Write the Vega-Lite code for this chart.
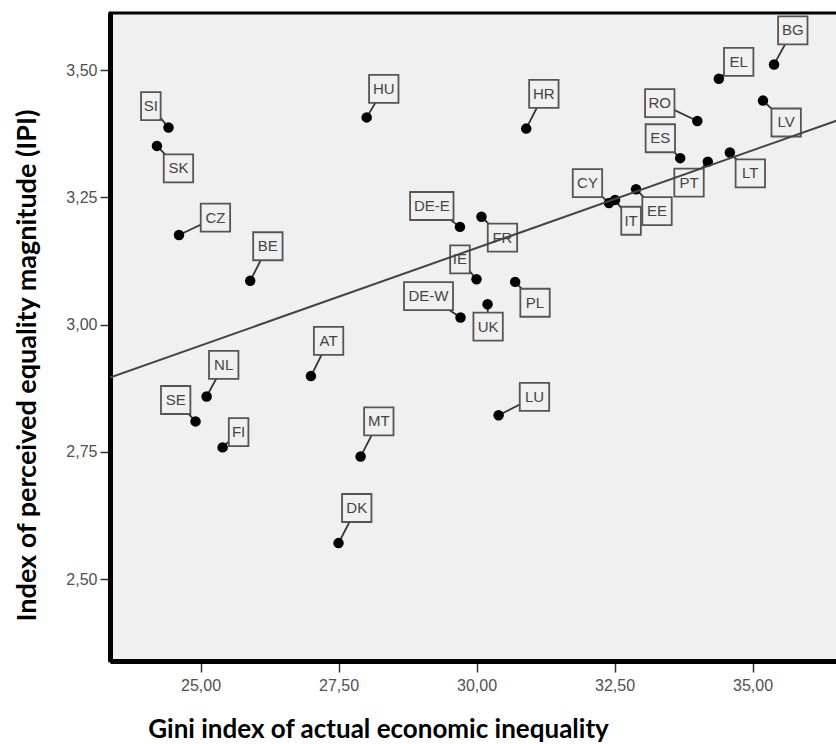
{
  "$schema": "https://vega.github.io/schema/vega-lite/v6.json",
  "width": 730,
  "height": 648,
  "autosize": "none",
  "padding": {"left": 110, "top": 13, "right": 0, "bottom": 83},
  "background": "white",
  "config": {
    "locale": {"number": {"decimal": ",", "thousands": ".", "grouping": [3], "currency": ["", " €"]}},
    "view": {"fill": "#f0f0f0", "stroke": "black", "strokeWidth": 3},
    "axis": {
      "grid": false,
      "domainColor": "black",
      "domainWidth": 5,
      "tickColor": "#333333",
      "tickWidth": 1.5,
      "tickSize": 10,
      "labelFont": "Liberation Sans",
      "labelFontSize": 16,
      "labelColor": "#505050",
      "titleFont": "Lato",
      "titleFontWeight": "bold",
      "titleFontSize": 27,
      "titleColor": "black"
    }
  },
  "datasets": {
    "countries": [
      {"country": "SI", "gini": 24.42, "ipi": 3.387, "lx": 24.10, "ly": 3.429},
      {"country": "SK", "gini": 24.21, "ipi": 3.351, "lx": 24.60, "ly": 3.307},
      {"country": "CZ", "gini": 24.61, "ipi": 3.176, "lx": 25.27, "ly": 3.210},
      {"country": "BE", "gini": 25.90, "ipi": 3.086, "lx": 26.22, "ly": 3.154},
      {"country": "HU", "gini": 28.01, "ipi": 3.407, "lx": 28.32, "ly": 3.463},
      {"country": "HR", "gini": 30.90, "ipi": 3.385, "lx": 31.22, "ly": 3.453},
      {"country": "DE-E", "gini": 29.70, "ipi": 3.192, "lx": 29.19, "ly": 3.233},
      {"country": "FR", "gini": 30.09, "ipi": 3.212, "lx": 30.47, "ly": 3.171},
      {"country": "IE", "gini": 30.00, "ipi": 3.089, "lx": 29.70, "ly": 3.128},
      {"country": "DE-W", "gini": 29.71, "ipi": 3.014, "lx": 29.13, "ly": 3.056},
      {"country": "PL", "gini": 30.70, "ipi": 3.084, "lx": 31.06, "ly": 3.043},
      {"country": "UK", "gini": 30.20, "ipi": 3.040, "lx": 30.21, "ly": 2.996},
      {"country": "CY", "gini": 32.40, "ipi": 3.239, "lx": 32.01, "ly": 3.278},
      {"country": "IT", "gini": 32.51, "ipi": 3.245, "lx": 32.80, "ly": 3.204},
      {"country": "EE", "gini": 32.89, "ipi": 3.266, "lx": 33.27, "ly": 3.223},
      {"country": "ES", "gini": 33.69, "ipi": 3.327, "lx": 33.33, "ly": 3.366},
      {"country": "PT", "gini": 34.19, "ipi": 3.320, "lx": 33.85, "ly": 3.279},
      {"country": "LT", "gini": 34.59, "ipi": 3.338, "lx": 34.96, "ly": 3.297},
      {"country": "RO", "gini": 34.00, "ipi": 3.400, "lx": 33.32, "ly": 3.435},
      {"country": "EL", "gini": 34.39, "ipi": 3.483, "lx": 34.75, "ly": 3.516},
      {"country": "BG", "gini": 35.39, "ipi": 3.511, "lx": 35.73, "ly": 3.578},
      {"country": "LV", "gini": 35.19, "ipi": 3.440, "lx": 35.61, "ly": 3.397},
      {"country": "NL", "gini": 25.11, "ipi": 2.859, "lx": 25.42, "ly": 2.921},
      {"country": "SE", "gini": 24.91, "ipi": 2.810, "lx": 24.55, "ly": 2.852},
      {"country": "FI", "gini": 25.40, "ipi": 2.759, "lx": 25.69, "ly": 2.789},
      {"country": "MT", "gini": 27.90, "ipi": 2.741, "lx": 28.23, "ly": 2.810},
      {"country": "DK", "gini": 27.50, "ipi": 2.571, "lx": 27.83, "ly": 2.640},
      {"country": "AT", "gini": 27.00, "ipi": 2.899, "lx": 27.32, "ly": 2.968},
      {"country": "LU", "gini": 30.40, "ipi": 2.822, "lx": 31.05, "ly": 2.858}
    ],
    "fit": [
      {"gini": 23.36, "ipi": 2.896},
      {"gini": 36.585, "ipi": 3.403}
    ]
  },
  "layer": [
    {
      "data": {"name": "countries"},
      "mark": {"type": "rule", "color": "#333333", "strokeWidth": 1.8},
      "encoding": {
        "x": {"field": "gini", "type": "quantitative",
              "scale": {"domain": [23.36, 36.585], "nice": false, "zero": false},
              "axis": {"values": [25, 27.5, 30, 32.5, 35], "format": ".2f", "tickSize": 11, "labelPadding": 5,
                       "title": "Gini index of actual economic inequality", "titleFontSize": 26,
                       "titleX": 268, "titleY": 76, "titleBaseline": "alphabetic", "titleAlign": "center", "titleAnchor": null}},
        "y": {"field": "ipi", "type": "quantitative",
              "scale": {"domain": [2.3395, 3.612], "nice": false, "zero": false},
              "axis": {"values": [2.5, 2.75, 3, 3.25, 3.5], "format": ".2f", "tickSize": 10, "labelPadding": 3,
                       "title": "Index of perceived equality magnitude (IPI)",
                       "titleX": -75, "titleY": 352, "titleBaseline": "alphabetic", "titleAlign": "center", "titleAngle": -90, "titleAnchor": null}},
        "x2": {"field": "lx"},
        "y2": {"field": "ly"}
      }
    },
    {
      "data": {"name": "countries"},
      "transform": [
        {"calculate": "length(datum.country) > 2 ? (indexof(datum.country, 'W') >= 0 ? 'xwide' : 'wide') : (indexof(datum.country, 'I') >= 0 ? 'narrow' : 'regular')", "as": "boxkind"}
      ],
      "mark": {"type": "point", "filled": true, "fill": "#f0f0f0", "stroke": "#555555", "strokeWidth": 1.8, "size": 784, "opacity": 1},
      "encoding": {
        "x": {"field": "lx", "type": "quantitative"},
        "y": {"field": "ly", "type": "quantitative"},
        "shape": {"field": "boxkind", "type": "nominal", "legend": null,
                  "scale": {"domain": ["narrow", "regular", "wide", "xwide"],
                            "range": ["M-0.7,-1H0.7V1H-0.7Z", "M-1.05,-1H1.05V1H-1.05Z", "M-1.55,-1H1.55V1H-1.55Z", "M-1.75,-1H1.75V1H-1.75Z"]}}
      }
    },
    {
      "data": {"name": "countries"},
      "mark": {"type": "text", "font": "Liberation Sans", "fontSize": 15, "color": "#444444", "align": "center", "baseline": "middle"},
      "encoding": {
        "x": {"field": "lx", "type": "quantitative"},
        "y": {"field": "ly", "type": "quantitative"},
        "text": {"field": "country"}
      }
    },
    {
      "data": {"name": "countries"},
      "mark": {"type": "circle", "color": "black", "size": 110, "opacity": 1},
      "encoding": {
        "x": {"field": "gini", "type": "quantitative"},
        "y": {"field": "ipi", "type": "quantitative"}
      }
    },
    {
      "data": {"name": "fit"},
      "mark": {"type": "line", "color": "#444444", "strokeWidth": 2, "clip": true},
      "encoding": {
        "x": {"field": "gini", "type": "quantitative"},
        "y": {"field": "ipi", "type": "quantitative"}
      }
    }
  ]
}
